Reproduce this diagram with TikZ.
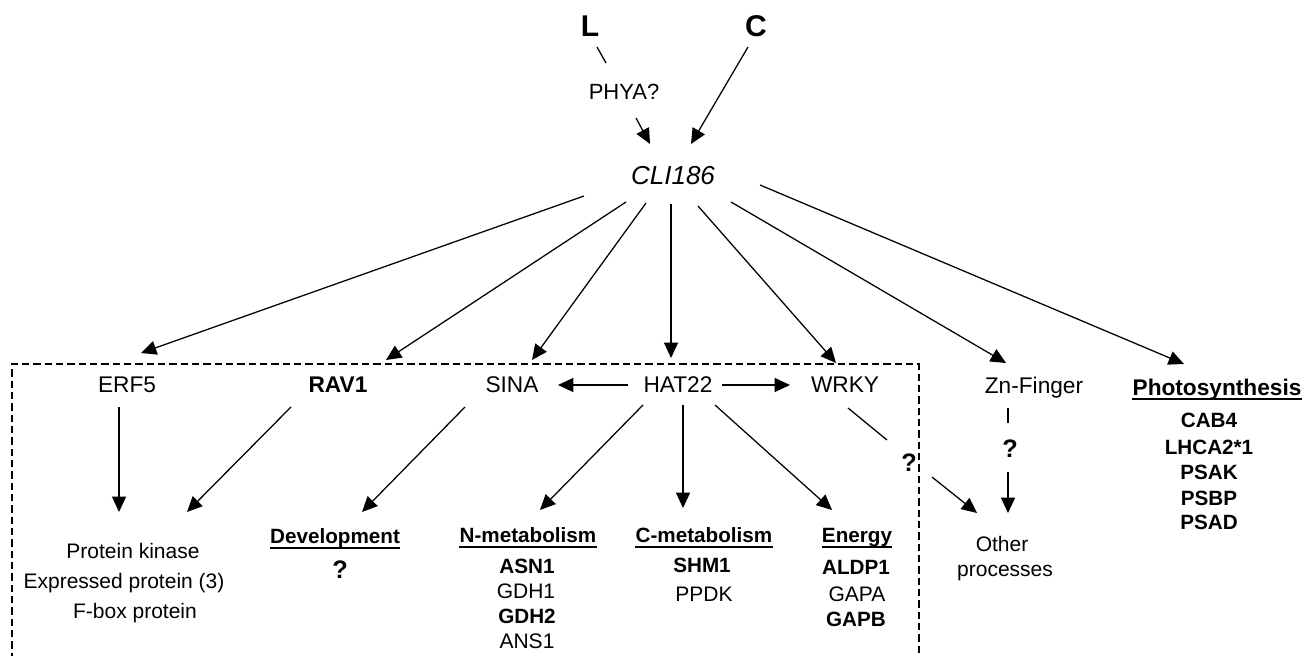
\documentclass[tikz,border=0pt]{standalone}
\usepackage{fontspec}
\setmainfont{Liberation Sans}
\usetikzlibrary{arrows.meta}
\begin{document}
\begin{tikzpicture}[x=0.75pt,y=-0.75pt,
  every node/.style={inner sep=0pt,anchor=base},
  t/.style={font=\fontsize{17}{20}\selectfont},
  tb/.style={font=\fontsize{17}{20}\selectfont\bfseries},
  s/.style={font=\fontsize{15.75}{18}\selectfont},
  sb/.style={font=\fontsize{15.5}{18}\selectfont\bfseries},
  qm/.style={font=\fontsize{19}{22}\selectfont\bfseries},
  big/.style={font=\fontsize{22.5}{26}\selectfont\bfseries},
  it/.style={font=\fontsize{19.5}{22}\selectfont\itshape},
  arr/.style={line width=0.95pt,-{Triangle[length=11.5pt,width=10.5pt]}},
  ln/.style={line width=0.95pt},
  ul/.style={line width=1.5pt},
  dbox/.style={line width=0.9pt,dash pattern=on 5.5pt off 3pt}]
\useasboundingbox (0,0) rectangle (1305,656);

% dashed box (open at the bottom, runs off the picture)
\draw[dbox] (12,660) -- (12,364) -- (919,364) -- (919,660);

% top
\node[big] (L) at (590,37) {L};
\node[big] (C) at (756,37) {C};
\node[font=\fontsize{16.5}{19}\selectfont] (phya) at (624,100) {PHYA?};
\node[it] (cli) at (673,184) {CLI186};

% row
\node[t]  (erf)  at (127,392) {ERF5};
\node[tb] (rav)  at (338,392) {RAV1};
\node[t]  (sina) at (512,392) {SINA};
\node[t]  (hat)  at (678,392) {HAT22};
\node[t]  (wrky) at (845,392) {WRKY};
\node[t]  (zn)   at (1034,393) {Zn-Finger};
\node[tb] (ph)   at (1217,395) {Photosynthesis};
\draw[ul] ([shift={(0,3.5)}]ph.base west) -- ([shift={(0,3.5)}]ph.base east);

% photosynthesis list
\node[sb] (cab)  at (1209,427) {CAB4};
\node[sb] (lhca) at (1209,454) {LHCA2*1};
\node[sb] (psak) at (1209,479) {PSAK};
\node[sb] (psbp) at (1209,505) {PSBP};
\node[sb] (psad) at (1209,529) {PSAD};

% bottom groups
\node[s] (pk)  at (133,558) {Protein kinase};
\node[s] (ep)  at (124,588) {Expressed protein (3)};
\node[s] (fb)  at (135,618) {F-box protein};

\node[sb] (dev)  at (335,543) {Development};
\node[qm] (devq) at (340,578) {?};

\node[sb] (nm)   at (528,542) {N-metabolism};
\node[sb] (asn)  at (527,573) {ASN1};
\node[s]  (gdh1) at (526,598) {GDH1};
\node[sb] (gdh2) at (527,623) {GDH2};
\node[s]  (ans)  at (527,648) {ANS1};

\node[sb] (cm)   at (704,542) {C-metabolism};
\node[sb] (shm)  at (702,572) {SHM1};
\node[s]  (ppdk) at (704,601) {PPDK};

\node[sb] (en)   at (857,542) {Energy};
\node[sb] (aldp) at (856,574) {ALDP1};
\node[s]  (gapa) at (857,601) {GAPA};
\node[sb] (gapb) at (856,626) {GAPB};

\foreach \h in {dev,nm,cm,en}
  \draw[ul] ([shift={(0,5)}]\h.base west) -- ([shift={(0,5)}]\h.base east);

\node[qm] (q1) at (909,471) {?};
\node[qm] (q2) at (1010,457) {?};
\node[s] (oth) at (1002,551) {Other};
\node[s] (oth2) at (1005,576) {processes};

% connectors at top
\draw[ln]  ([shift={(7,10)}]L.base) -- ([shift={(-18,-37)}]phya.base);
\draw[arr] ([shift={(12,18)}]phya.base) -- ([shift={(-23,-40)}]cli.base);
\draw[arr] ([shift={(-8,10)}]C.base) -- ([shift={(18,-40)}]cli.base);

% from CLI186
\draw[arr] ([shift={(-89,12)}]cli.base) -- ([shift={(14,-39)}]erf.base);
\draw[arr] ([shift={(-47,18)}]cli.base) -- ([shift={(48,-32)}]rav.base);
\draw[arr] ([shift={(-27,19)}]cli.base) -- ([shift={(20,-32)}]sina.base);
\draw[arr] ([shift={(-2,20)}]cli.base) -- ([shift={(-7,-34)}]hat.base);
\draw[arr] ([shift={(25,22)}]cli.base) -- ([shift={(-9,-29)}]wrky.base);
\draw[arr] ([shift={(58,18)}]cli.base) -- ([shift={(-28,-30)}]zn.base);
\draw[arr] ([shift={(87,1)}]cli.base) -- ([shift={(-33,-31)}]ph.base);

% within the row
\draw[arr] ([shift={(-50,-7)}]hat.base) -- ([shift={(46,-7)}]sina.base);
\draw[arr] ([shift={(44,-7)}]hat.base) -- ([shift={(-55,-7)}]wrky.base);

% down to groups
\draw[arr] ([shift={(-8,15)}]erf.base) -- ([shift={(-14,-46)}]pk.base);
\draw[arr] ([shift={(-47,15)}]rav.base) -- ([shift={(54,-46)}]pk.base);
\draw[arr] ([shift={(-47,15)}]sina.base) -- ([shift={(27,-31)}]dev.base);
\draw[arr] ([shift={(-35,13)}]hat.base) -- ([shift={(12,-32)}]nm.base);
\draw[arr] ([shift={(5,13)}]hat.base) -- ([shift={(-21,-34)}]cm.base);
\draw[arr] ([shift={(37,13)}]hat.base) -- ([shift={(-25,-32)}]en.base);

\draw[ln]  ([shift={(3,16)}]wrky.base) -- ([shift={(-22,-31)}]q1.base);
\draw[arr] ([shift={(23,6)}]q1.base) -- ([shift={(-25,-38)}]oth.base);
\draw[ln]  ([shift={(-26,15)}]zn.base) -- ([shift={(-2,-34)}]q2.base);
\draw[arr] ([shift={(-2,15)}]q2.base) -- ([shift={(6,-38)}]oth.base);
\end{tikzpicture}
\end{document}
